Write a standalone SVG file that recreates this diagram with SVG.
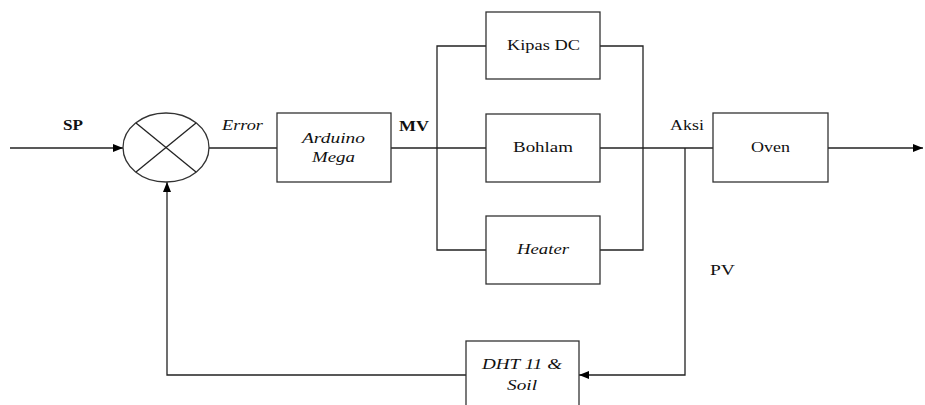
<svg xmlns="http://www.w3.org/2000/svg" width="925" height="405" viewBox="0 0 925 405">
<defs>
<style>
.box{fill:#fff;stroke:#333;stroke-width:1.3}
.ln{fill:none;stroke:#222;stroke-width:1.3}
text{font-family:"Liberation Serif","Times New Roman",serif;font-size:15px;fill:#111}
.it{font-style:italic}
.b{font-weight:bold}
</style>
<marker id="ah" viewBox="0 0 10 8" refX="10" refY="4" markerWidth="10" markerHeight="8" markerUnits="userSpaceOnUse" orient="auto">
<path d="M0,0 L10,4 L0,8 Z" fill="#000"/>
</marker>
</defs>
<rect width="925" height="405" fill="#fff"/>
<g id="connectors">
<line class="ln" x1="10" y1="148" x2="123" y2="148" marker-end="url(#ah)"/>
<line class="ln" x1="209" y1="148" x2="277" y2="148"/>
<line class="ln" x1="391" y1="148" x2="486" y2="148"/>
<polyline class="ln" points="486,46 437,46 437,250 486,250"/>
<polyline class="ln" points="600,46 643,46 643,250 600,250"/>
<line class="ln" x1="600" y1="148" x2="713" y2="148"/>
<line class="ln" x1="828" y1="148" x2="923" y2="148" marker-end="url(#ah)"/>
<polyline class="ln" points="685,148 685,375 579,375" marker-end="url(#ah)"/>
<polyline class="ln" points="466,375 167,375 167,182" marker-end="url(#ah)"/>
</g>
<g id="sum">
<ellipse class="box" cx="166" cy="147.5" rx="43" ry="34.5"/>
<line class="ln" x1="136" y1="123" x2="196" y2="172"/>
<line class="ln" x1="196" y1="123" x2="136" y2="172"/>
</g>
<g id="arduino">
<rect class="box" x="277" y="113" width="114" height="69"/>
<text class="it" x="302" y="143" textLength="63" lengthAdjust="spacingAndGlyphs">Arduino</text>
<text class="it" x="312" y="162" textLength="43" lengthAdjust="spacingAndGlyphs">Mega</text>
</g>
<g id="kipas">
<rect class="box" x="486" y="12" width="114" height="67"/>
<text x="507" y="50" textLength="73" lengthAdjust="spacingAndGlyphs">Kipas DC</text>
</g>
<g id="bohlam">
<rect class="box" x="486" y="114" width="114" height="68"/>
<text x="513" y="152" textLength="60" lengthAdjust="spacingAndGlyphs">Bohlam</text>
</g>
<g id="heater">
<rect class="box" x="486" y="216" width="114" height="68"/>
<text class="it" x="517" y="254" textLength="52" lengthAdjust="spacingAndGlyphs">Heater</text>
</g>
<g id="oven">
<rect class="box" x="713" y="113" width="115" height="69"/>
<text x="751" y="152" textLength="39" lengthAdjust="spacingAndGlyphs">Oven</text>
</g>
<g id="dht">
<rect class="box" x="466" y="341" width="113" height="70"/>
<text class="it" x="482" y="369" textLength="80" lengthAdjust="spacingAndGlyphs">DHT 11 &amp;</text>
<text class="it" x="507" y="390" textLength="30" lengthAdjust="spacingAndGlyphs">Soil</text>
</g>
<g id="labels">
<text class="b" x="63" y="130" textLength="20" lengthAdjust="spacingAndGlyphs">SP</text>
<text class="it" x="222" y="130" textLength="41" lengthAdjust="spacingAndGlyphs">Error</text>
<text class="b" x="399" y="131" textLength="30" lengthAdjust="spacingAndGlyphs">MV</text>
<text x="670" y="130" textLength="34" lengthAdjust="spacingAndGlyphs">Aksi</text>
<text x="710" y="275" textLength="25" lengthAdjust="spacingAndGlyphs">PV</text>
</g>
</svg>
